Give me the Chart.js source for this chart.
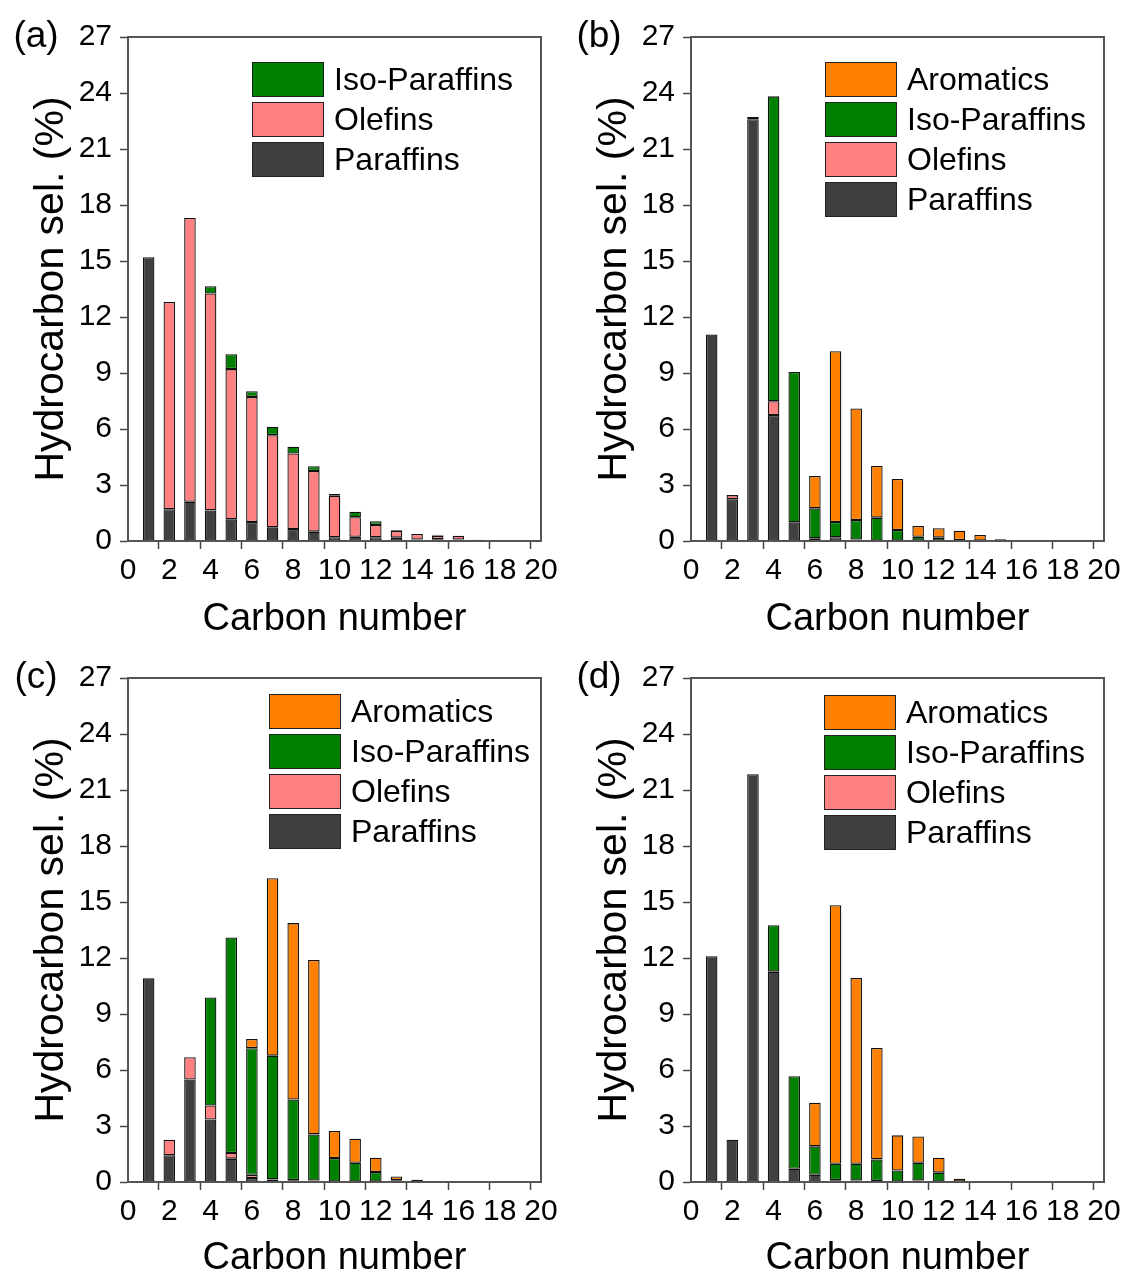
<!DOCTYPE html>
<html>
<head>
<meta charset="utf-8">
<script src="https://cdn.jsdelivr.net/npm/chart.js@4.4.1/dist/chart.umd.min.js"></script>
<style>
  body { margin: 0; background: #fff; }
  #hoja { position: relative; width: 1125px; height: 1278px; background: #fff; }
  canvas { position: absolute; }
</style>
</head>
<body>
<div id="hoja">
  <canvas id="panel-a" width="562" height="639" style="left:0px;top:0px"></canvas>
  <canvas id="panel-b" width="562" height="639" style="left:563px;top:0px"></canvas>
  <canvas id="panel-c" width="562" height="637" style="left:0px;top:641px"></canvas>
  <canvas id="panel-d" width="562" height="637" style="left:563px;top:641px"></canvas>
</div>
<script>
// carbon number categories (x axis)
var carbonos = ['0','1','2','3','4','5','6','7','8','9','10','11','12','13','14','15','16','17','18','19','20'];
var yTicks = [0, 3, 6, 9, 12, 15, 18, 21, 24, 27];

// (a)
var parafinasA = [null, 15.2, 1.7, 2.1, 1.64, 1.16, 1.02, 0.73, 0.64, 0.5, 0.2, 0.23, 0.2, 0.18, 0.08, 0.1, 0.08, 0.03, 0.03];
var olefinasA  = [null, null, 11.1, 15.2, 11.62, 8.05, 6.7, 4.94, 4.05, 3.25, 2.23, 1.04, 0.66, 0.36, 0.3, 0.19, 0.2, 0.04, 0.02];
var isoA       = [null, null, null, null, 0.39, 0.8, 0.3, 0.45, 0.36, 0.26, 0.09, 0.3, 0.2, 0.03, null, 0.04];

// (b)
var parafinasB = [null, 11.06, 2.23, 22.6, 6.75, 1.0, 0.15, 0.2, 0.08, 0.03, 0.02];
var olefinasB  = [null, null, 0.23, 0.12, 0.74];
var isoB       = [null, null, null, null, 16.33, 8.05, 1.6, 0.82, 1.04, 1.22, 0.57, 0.23, 0.18, 0.05, 0.03];
var aromB      = [null, null, null, null, null, null, 1.73, 9.15, 5.98, 2.77, 2.73, 0.57, 0.5, 0.5, 0.29, 0.09];

// (c)
var parafinasC = [null, 10.91, 1.43, 5.49, 3.35, 1.25, 0.21, 0.14, 0.1, 0.08, 0.03, 0.02, 0.02, 0.03];
var olefinasC  = [null, null, 0.83, 1.19, 0.75, 0.3, 0.18];
var isoC       = [null, null, null, null, 5.79, 11.55, 6.78, 6.63, 4.32, 2.47, 1.25, 1.01, 0.51, 0.07];
var aromC      = [null, null, null, null, null, null, 0.49, 9.5, 9.45, 9.34, 1.45, 1.29, 0.77, 0.2, 0.12, 0.05];

// (d)
var parafinasD = [null, 12.09, 2.26, 21.84, 11.27, 0.71, 0.39, 0.1, 0.08, 0.06, 0.02, 0.08, 0.02, 0.03];
var olefinasD  = [];
var isoD       = [null, null, null, null, 2.49, 4.96, 1.52, 0.88, 0.9, 1.15, 0.6, 0.95, 0.48];
var aromD      = [null, null, null, null, null, null, 2.33, 13.85, 9.95, 5.97, 1.88, 1.41, 0.8, 0.15, 0.05];

var fuente = '"Liberation Sans", Arial, sans-serif';
var colores = {
    'Paraffins': '#404040',
    'Olefins': '#ff8080',
    'Iso-Paraffins': '#008000',
    'Aromatics': '#ff8000'
};

// frame, panel letter and legend drawn inside the plot
var marcoPlugin = {
    id: 'marco',
    afterDraw: function(chart, args, opts) {
        var c = chart.ctx;
        var area = chart.chartArea;
        c.save();
        c.strokeStyle = '#555';
        c.lineWidth = 2;
        c.strokeRect(area.left, area.top, area.right - area.left, area.bottom - area.top);

        c.fillStyle = '#000';
        c.font = '37px ' + fuente;
        c.textAlign = 'center';
        c.textBaseline = 'middle';
        c.fillText(opts.letra, 36, area.top);

        var ds = chart.data.datasets.slice().reverse();
        var x = area.left + opts.dx;
        var y = area.top + opts.dy;
        c.font = '32px ' + fuente;
        c.textAlign = 'left';
        ds.forEach(function(d, i) {
            var yy = y + i * 40;
            c.fillStyle = d.backgroundColor;
            c.fillRect(x, yy, 72, 35);
            c.strokeStyle = '#222';
            c.lineWidth = 1;
            c.strokeRect(x + 0.5, yy + 0.5, 71, 34);
            c.fillStyle = '#000';
            c.fillText(d.label, x + 82, yy + 19);
        });
        c.restore();
    }
};

function serie(nombre, datos) {
    return {
        label: nombre,
        data: datos,
        backgroundColor: colores[nombre],
        borderColor: '#111',
        borderWidth: 1.3,
        borderSkipped: false,
        barPercentage: 0.56,
        categoryPercentage: 1
    };
}

function generarPanel(id, letra, series, dx, dy, altoX) {
    var ctx = document.getElementById(id).getContext('2d');
    var config = {
        type: 'bar',
        data: {
            labels: carbonos,
            datasets: series
        },
        options: {
            responsive: false,
            animation: false,
            devicePixelRatio: 1,
            layout: { padding: { top: 37, right: 21, left: 0, bottom: 0 } },
            plugins: {
                legend: { display: false },
                tooltip: { enabled: false },
                marco: { letra: letra, dx: dx, dy: dy }
            },
            scales: {
                x: {
                    stacked: true,
                    offset: false,
                    grid: {
                        drawOnChartArea: false,
                        tickLength: 8,
                        tickWidth: 1.5,
                        tickColor: function(c) { return c.index % 2 ? 'rgba(0,0,0,0)' : '#444'; }
                    },
                    border: { color: '#555', width: 2 },
                    ticks: {
                        color: '#000',
                        font: { family: fuente, size: 30 },
                        padding: 4,
                        autoSkip: false,
                        maxRotation: 0,
                        minRotation: 0,
                        callback: function(v, i) { return i % 2 ? '' : carbonos[i]; }
                    },
                    title: {
                        display: true,
                        text: 'Carbon number',
                        color: '#000',
                        font: { family: fuente, size: 38, lineHeight: 1 },
                        padding: 0
                    },
                    afterFit: function(s) { s.height = altoX; }
                },
                y: {
                    stacked: true,
                    min: 0,
                    max: 27,
                    grid: {
                        drawOnChartArea: false,
                        tickLength: 8,
                        tickWidth: 1.5,
                        tickColor: '#444'
                    },
                    border: { color: '#555', width: 2 },
                    ticks: {
                        stepSize: 1.5,
                        color: '#000',
                        font: { family: fuente, size: 30 },
                        padding: 8,
                        callback: function(v) { return yTicks.indexOf(v) >= 0 ? v : ''; }
                    },
                    title: {
                        display: true,
                        text: 'Hydrocarbon sel. (%)',
                        color: '#000',
                        font: { family: fuente, size: 41, lineHeight: 1 },
                        padding: { top: 31, bottom: 0 }
                    },
                    afterFit: function(s) { s.width = 128; }
                }
            }
        },
        plugins: [marcoPlugin]
    };
    return new Chart(ctx, config);
}

generarPanel('panel-a', '(a)', [
    serie('Paraffins', parafinasA),
    serie('Olefins', olefinasA),
    serie('Iso-Paraffins', isoA)
], 124, 25, 98);

generarPanel('panel-b', '(b)', [
    serie('Paraffins', parafinasB),
    serie('Olefins', olefinasB),
    serie('Iso-Paraffins', isoB),
    serie('Aromatics', aromB)
], 134, 25, 98);

generarPanel('panel-c', '(c)', [
    serie('Paraffins', parafinasC),
    serie('Olefins', olefinasC),
    serie('Iso-Paraffins', isoC),
    serie('Aromatics', aromC)
], 141, 16, 96);

generarPanel('panel-d', '(d)', [
    serie('Paraffins', parafinasD),
    serie('Olefins', olefinasD),
    serie('Iso-Paraffins', isoD),
    serie('Aromatics', aromD)
], 133, 17, 96);
</script>
</body>
</html>
